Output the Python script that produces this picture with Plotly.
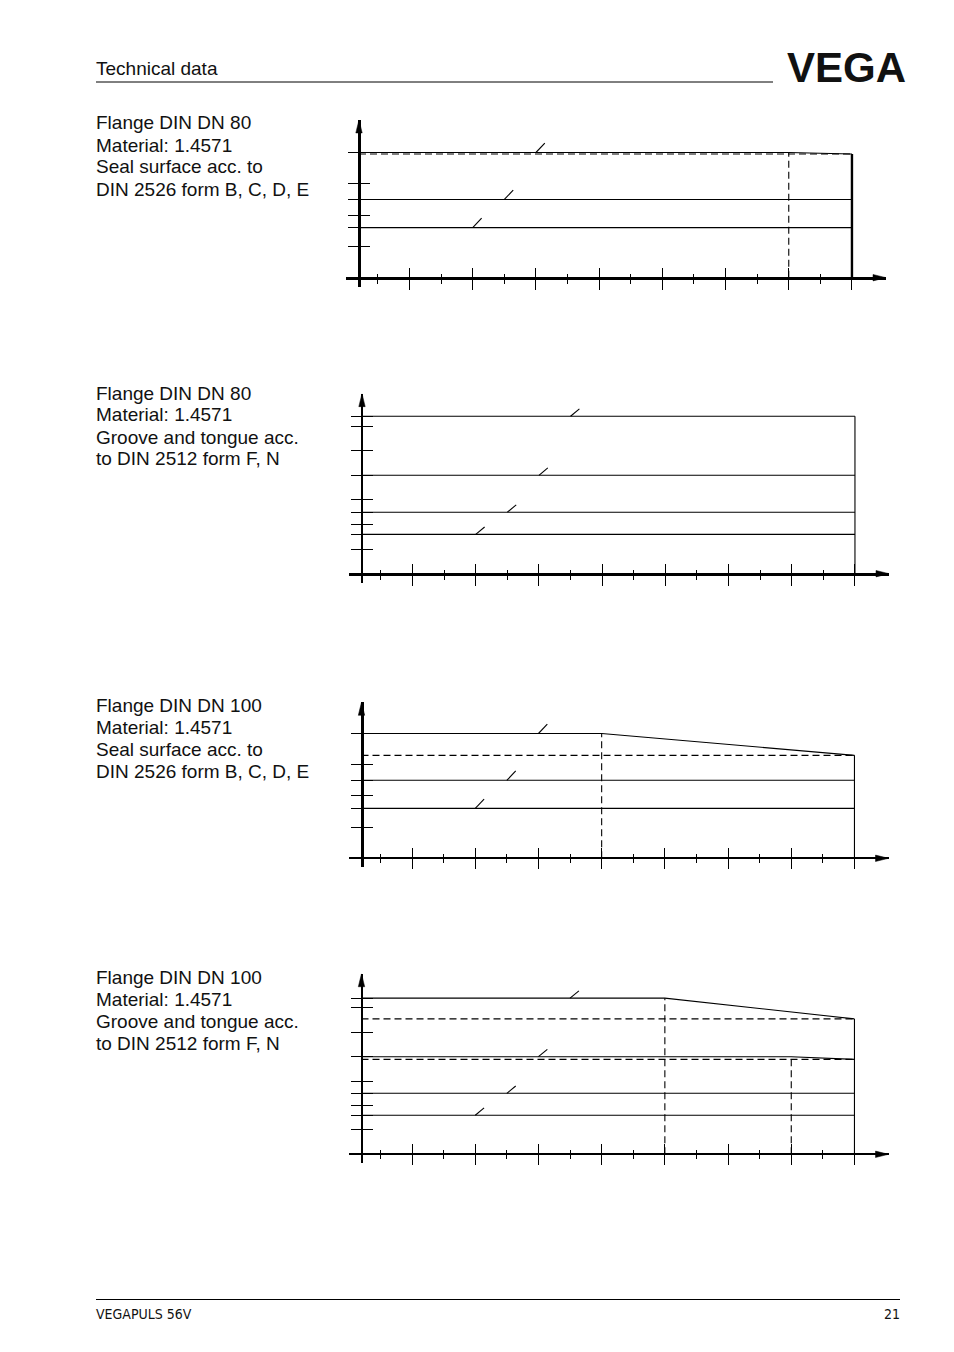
import plotly.graph_objects as go

# The page adds an 8px body margin, so the figure is sized to the window minus that margin
PAGE_W, PAGE_H = 954, 1352
OFF = 8
W, H = PAGE_W - 2 * OFF, PAGE_H - 2 * OFF

# ---------------- data ----------------
temp_major = [0, 50, 100, 150, 200, 250, 300, 350]
temp_minor = [-25, 25, 75, 125, 175, 225, 275, 325]
t_start = -40

# Chart 1: Flange DIN DN 80, seal surface
c1_x_16 = [-40, 350]; c1_y_16 = [16, 16]
c1_x_25 = [-40, 350]; c1_y_25 = [25, 25]
c1_x_40 = [-40, 300, 350]; c1_y_40 = [40, 40, 39.5]
c1_lim_x = [-40, 350]; c1_lim_y = [39.5, 39.5]
c1_vd_x = [300, 300]; c1_vd_y = [0, 40]
c1_end_x = [350, 350]; c1_end_y = [0, 39.5]
c1_slash_x = [50, 75, 100]; c1_slash_y = [16, 25, 40]
c1_yticks = [10, 16, 20, 25, 30, 40]
c1_ytop = 50.4

# Chart 2: Flange DIN DN 80, groove and tongue
c2_x_16 = [-40, 350]; c2_y_16 = [16, 16]
c2_x_25 = [-40, 350]; c2_y_25 = [25, 25]
c2_x_40 = [-40, 350]; c2_y_40 = [40, 40]
c2_x_64 = [-40, 350]; c2_y_64 = [64, 64]
c2_end_x = [350, 350]; c2_end_y = [0, 64]
c2_slash_x = [50, 75, 100, 125]; c2_slash_y = [16, 25, 40, 64]
c2_yticks = [10, 16, 20, 25, 30, 40, 50, 60, 64]
c2_ytop = 73.2

# Chart 3: Flange DIN DN 100, seal surface
c3_x_16 = [-40, 350]; c3_y_16 = [16, 16]
c3_x_25 = [-40, 350]; c3_y_25 = [25, 25]
c3_x_40 = [-40, 150, 350]; c3_y_40 = [40, 40, 33]
c3_lim_x = [-40, 350]; c3_lim_y = [33, 33]
c3_vd_x = [150, 150]; c3_vd_y = [0, 40]
c3_end_x = [350, 350]; c3_end_y = [0, 33]
c3_slash_x = [50, 75, 100]; c3_slash_y = [16, 25, 40]
c3_yticks = [10, 16, 20, 25, 30, 40]
c3_ytop = 50.0

# Chart 4: Flange DIN DN 100, groove and tongue
c4_x_16 = [-40, 350]; c4_y_16 = [16, 16]
c4_x_25 = [-40, 350]; c4_y_25 = [25, 25]
c4_x_40 = [-40, 300, 350]; c4_y_40 = [40, 40, 38.9]
c4_lim40_x = [-40, 350]; c4_lim40_y = [38.9, 38.9]
c4_vd40_x = [300, 300]; c4_vd40_y = [0, 40]
c4_x_64 = [-40, 200, 350]; c4_y_64 = [64, 64, 55.5]
c4_lim64_x = [-40, 350]; c4_lim64_y = [55.5, 55.5]
c4_vd64_x = [200, 200]; c4_vd64_y = [0, 64]
c4_end_x = [350, 350]; c4_end_y = [0, 55.5]
c4_slash_x = [50, 75, 100, 125]; c4_slash_y = [16, 25, 40, 64]
c4_yticks = [10, 16, 20, 25, 30, 40, 50, 60, 64]
c4_ytop = 74.0

c1_text = ["Flange DIN DN 80", "Material: 1.4571", "Seal surface acc. to", "DIN 2526 form B, C, D, E"]
c2_text = ["Flange DIN DN 80", "Material: 1.4571", "Groove and tongue acc.", "to DIN 2512 form F, N"]
c3_text = ["Flange DIN DN 100", "Material: 1.4571", "Seal surface acc. to", "DIN 2526 form B, C, D, E"]
c4_text = ["Flange DIN DN 100", "Material: 1.4571", "Groove and tongue acc.", "to DIN 2512 form F, N"]

header_text = "Technical data"
footer_left = "VEGAPULS 56V"
footer_right = "21"
logo_text = "VEGA"


# ---------------- layout geometry (page pixels) ----------------
def px_x(X):
    return (X - OFF) / W


def px_y(Y):
    return 1 - (Y - OFF) / H


SX = 1.264  # px per degree
charts = [
    dict(ox=359, oy=277.7, sy=3.13, ytop=c1_ytop, ticks=c1_yticks, lwx=2.7, lwy=2.7, ty=123, text=c1_text,
         solid=[(c1_x_16, c1_y_16), (c1_x_25, c1_y_25), (c1_x_40, c1_y_40)],
         dashed=[(c1_lim_x, c1_lim_y), (c1_vd_x, c1_vd_y)],
         end=(c1_end_x, c1_end_y, 2.4), slash=(c1_slash_x, c1_slash_y)),
    dict(ox=362, oy=573.7, sy=2.46, ytop=c2_ytop, ticks=c2_yticks, lwx=3.3, lwy=2.3, ty=393, text=c2_text,
         solid=[(c2_x_16, c2_y_16), (c2_x_25, c2_y_25), (c2_x_40, c2_y_40), (c2_x_64, c2_y_64)],
         dashed=[],
         end=(c2_end_x, c2_end_y, 1.1), slash=(c2_slash_x, c2_slash_y)),
    dict(ox=361.5, oy=858.3, sy=3.12, ytop=c3_ytop, ticks=c3_yticks, lwx=2.0, lwy=2.5, ty=705, text=c3_text,
         solid=[(c3_x_16, c3_y_16), (c3_x_25, c3_y_25), (c3_x_40, c3_y_40)],
         dashed=[(c3_lim_x, c3_lim_y), (c3_vd_x, c3_vd_y)],
         end=(c3_end_x, c3_end_y, 1.1), slash=(c3_slash_x, c3_slash_y)),
    dict(ox=361.5, oy=1154.3, sy=2.44, ytop=c4_ytop, ticks=c4_yticks, lwx=1.7, lwy=1.6, ty=977, text=c4_text,
         solid=[(c4_x_16, c4_y_16), (c4_x_25, c4_y_25), (c4_x_40, c4_y_40), (c4_x_64, c4_y_64)],
         dashed=[(c4_lim40_x, c4_lim40_y), (c4_vd40_x, c4_vd40_y), (c4_lim64_x, c4_lim64_y), (c4_vd64_x, c4_vd64_y)],
         end=(c4_end_x, c4_end_y, 1.1), slash=(c4_slash_x, c4_slash_y)),
]

FONT = "Liberation Sans, Arial, Helvetica, sans-serif"
NARROW = "Liberation Sans Narrow, Arial Narrow, DejaVu Sans Condensed, " + FONT
fig = go.Figure()
layout = dict(width=W, height=H, margin=dict(l=0, r=0, t=0, b=0, pad=0),
              paper_bgcolor="white", plot_bgcolor="rgba(0,0,0,0)", showlegend=False,
              annotations=[], shapes=[])


def ax_name(n):
    return "" if n == 1 else str(n)


for i, ch in enumerate(charts, start=1):
    ox, oy, sy = ch["ox"], ch["oy"], ch["sy"]
    xr = [t_start - 13 / SX, t_start + 527 / SX]
    yr = [-9 / sy, ch["ytop"]]
    top_px = oy - ch["ytop"] * sy
    xdom = [px_x(ox - 13), px_x(ox + 527)]
    ydom = [px_y(oy + 9), px_y(top_px)]
    xpos = px_y(oy)
    ypos = px_x(ox)
    xa, ya = "x" + ax_name(i), "y" + ax_name(i)
    xo, yo = "x" + str(i + 4), "y" + str(i + 4)

    xbase = dict(range=xr, domain=xdom, anchor="free", position=xpos, showgrid=False, zeroline=False,
                 showticklabels=False, tickmode="array", tickvals=temp_major, ticklen=10, tickwidth=1.3,
                 tickcolor="black", fixedrange=True)
    ybase = dict(range=yr, domain=ydom, anchor="free", position=ypos, showgrid=False, zeroline=False,
                 showticklabels=False, tickmode="array", tickvals=ch["ticks"], ticklen=10, tickwidth=1.3,
                 tickcolor="black", fixedrange=True)
    layout["xaxis" + ax_name(i)] = dict(xbase, showline=True, linewidth=ch["lwx"], linecolor="black", ticks="outside",
                                        minor=dict(tickmode="array", tickvals=temp_minor, ticklen=4, tickwidth=1.3,
                                                   tickcolor="black", ticks="outside", showgrid=False))
    layout["xaxis" + str(i + 4)] = dict(xbase, overlaying=xa, showline=False, ticks="inside",
                                        minor=dict(tickmode="array", tickvals=temp_minor, ticklen=4, tickwidth=1.3,
                                                   tickcolor="black", ticks="inside", showgrid=False))
    layout["yaxis" + ax_name(i)] = dict(ybase, showline=True, linewidth=ch["lwy"], linecolor="black", ticks="outside")
    layout["yaxis" + str(i + 4)] = dict(ybase, overlaying=ya, showline=False, ticks="inside")

    # invisible traces so overlay axes are registered
    fig.add_trace(go.Scatter(x=[None], y=[None], xaxis=xo, yaxis=ya, hoverinfo="skip"))
    fig.add_trace(go.Scatter(x=[None], y=[None], xaxis=xa, yaxis=yo, hoverinfo="skip"))

    for xs, ys in ch["solid"]:
        fig.add_trace(go.Scatter(x=xs, y=ys, mode="lines", line=dict(color="black", width=1.1),
                                 xaxis=xa, yaxis=ya, hoverinfo="skip"))
    for xs, ys in ch["dashed"]:
        fig.add_trace(go.Scatter(x=xs, y=ys, mode="lines", line=dict(color="black", width=1.1, dash="7px,4px"),
                                 xaxis=xa, yaxis=ya, hoverinfo="skip"))
    ex, ey, ew = ch["end"]
    fig.add_trace(go.Scatter(x=ex, y=ey, mode="lines", line=dict(color="black", width=ew),
                             xaxis=xa, yaxis=ya, hoverinfo="skip"))
    # leader slashes
    sx_list, sy_list = ch["slash"]
    px, py = [], []
    for a, b in zip(sx_list, sy_list):
        px += [a, a + 7, None]
        py += [b, b + 3, None]
    fig.add_trace(go.Scatter(x=px, y=py, mode="lines", line=dict(color="black", width=1.1),
                             xaxis=xa, yaxis=ya, hoverinfo="skip"))
    # arrow heads (derived from the axis limits)
    hx = 13 / SX; hy = 3.2 / sy
    fig.add_trace(go.Scatter(x=[xr[1] - hx, xr[1], xr[1] - hx, xr[1] - hx],
                             y=[hy, 0, -hy, hy], mode="lines", fill="toself", fillcolor="black",
                             line=dict(color="black", width=0.5), xaxis=xa, yaxis=ya, hoverinfo="skip"))
    vx = 3.2 / SX; vy = 13 / sy
    fig.add_trace(go.Scatter(x=[t_start - vx, t_start, t_start + vx, t_start - vx],
                             y=[yr[1] - vy, yr[1], yr[1] - vy, yr[1] - vy], mode="lines", fill="toself",
                             fillcolor="black", line=dict(color="black", width=0.5), xaxis=xa, yaxis=ya,
                             hoverinfo="skip"))

    for k, line in enumerate(ch["text"]):
        layout["annotations"].append(dict(text=line, x=px_x(94), y=px_y(ch["ty"] + 22 * k), xref="paper",
                                          yref="paper", xanchor="left", yanchor="middle", showarrow=False,
                                          font=dict(family=FONT, size=19, color="#111")))

# header / footer
layout["annotations"].append(dict(text=header_text, x=px_x(94), y=px_y(68.5), xref="paper", yref="paper",
                                  xanchor="left", yanchor="middle", showarrow=False,
                                  font=dict(family=FONT, size=19, color="#111")))
layout["annotations"].append(dict(text="<b>" + logo_text + "</b>", x=px_x(846), y=px_y(68), xref="paper",
                                  yref="paper", xanchor="center", yanchor="middle", showarrow=False,
                                  font=dict(family=FONT, size=42, color="#111")))
layout["annotations"].append(dict(text=footer_left, x=px_x(94), y=px_y(1314), xref="paper", yref="paper",
                                  xanchor="left", yanchor="middle", showarrow=False,
                                  font=dict(family=NARROW, size=14, color="#111")))
layout["annotations"].append(dict(text=footer_right, x=px_x(902), y=px_y(1314), xref="paper", yref="paper",
                                  xanchor="right", yanchor="middle", showarrow=False,
                                  font=dict(family=NARROW, size=14, color="#111")))
layout["shapes"].append(dict(type="line", xref="paper", yref="paper", x0=px_x(96), x1=px_x(773),
                             y0=px_y(82), y1=px_y(82), line=dict(color="black", width=1)))
layout["shapes"].append(dict(type="line", xref="paper", yref="paper", x0=px_x(96), x1=px_x(900),
                             y0=px_y(1299.5), y1=px_y(1299.5), line=dict(color="black", width=1)))

fig.update_layout(**layout)
fig.write_html("out.html")
